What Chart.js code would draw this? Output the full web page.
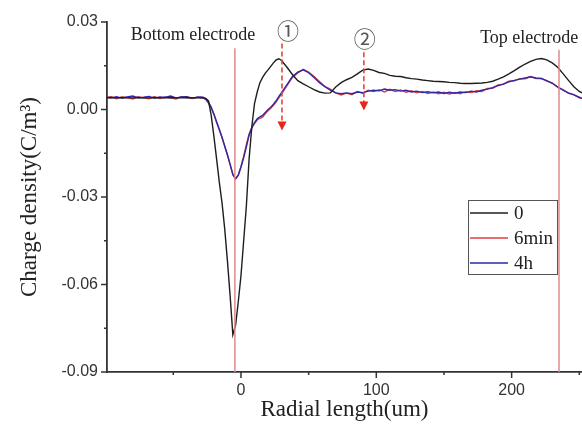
<!DOCTYPE html>
<html>
<head>
<meta charset="utf-8">
<script src="https://cdn.jsdelivr.net/npm/chart.js@4.4.0/dist/chart.umd.min.js"></script>
<style>
html,body{margin:0;padding:0;background:#fff;}
</style>
</head>
<body>
<canvas id="myLine" width="582" height="432"></canvas>
<script>
// radial position (um)
const radial = [-100,-96,-92,-88,-84,-80,-76,-72,-68,-64,-60,-56,-52,-48,-44,-40,-36,-32,
  -30,-28,-26,-24,-22,-20,-18,-16,-14,-12,-10,-8,-6,-4,-2,0,2,4,6,8,10,12,14,16,18,20,22,24,26,28,30,
  34,38,42,46,50,54,58,62,66,70,74,78,82,86,90,94,98,102,106,110,114,118,122,126,130,134,138,142,
  146,150,154,158,162,166,170,174,178,182,186,190,194,198,202,206,210,214,218,222,226,230,234,238,
  242,246,250,252];

// charge density, t = 0
const q0 = [0.0040,0.0041,0.0040,0.0041,0.0040,0.0040,0.0041,0.0040,0.0040,0.0041,0.0040,0.0040,0.0041,0.0040,0.0040,0.0041,0.0040,0.0040,
  0.0040,0.0040,0.0038,0.0030,-0.0020,-0.0092,-0.0170,-0.0250,-0.0320,-0.0410,-0.0520,-0.0640,-0.0772,-0.0740,-0.0660,-0.0570,-0.0450,-0.0330,-0.0170,-0.0060,0.0020,0.0060,0.0092,0.0110,0.0125,0.0136,0.0148,0.0160,0.0170,0.0174,0.0168,
  0.0145,0.0120,0.0099,0.0088,0.0078,0.0068,0.0060,0.0056,0.0057,0.0077,
  0.0092,0.0102,0.0110,0.0122,0.0135,0.0139,0.0134,0.0127,0.0124,0.0117,
  0.0114,0.0113,0.0109,0.0106,0.0104,0.0101,0.0099,0.0097,0.0096,0.0095,
  0.0093,0.0092,0.0090,0.0089,0.0089,0.0090,0.0091,0.0093,0.0097,0.0104,
  0.0112,0.0122,0.0133,0.0145,0.0156,0.0165,0.0172,0.0175,0.0170,0.0160,
  0.0145,0.0123,0.0100,0.0078,0.0062,0.0057];

// 6min
const q6min = [0.0040,0.0044,0.0037,0.0043,0.0041,0.0036,0.0044,0.0040,0.0037,0.0044,0.0038,0.0043,0.0040,0.0036,0.0044,0.0041,0.0038,0.0043,
  0.0040,0.0039,0.0034,0.0022,0.0005,-0.0018,-0.0045,-0.0070,-0.0097,-0.0127,
  -0.0157,-0.0190,-0.0224,-0.0237,-0.0224,-0.0195,-0.0160,-0.0120,-0.0084,-0.0063,
  -0.0048,-0.0036,-0.0030,-0.0026,-0.0014,-0.0004,0.0004,0.0014,0.0026,0.0040,0.0054,
  0.0082,0.0110,0.0125,0.0138,0.0128,0.0113,0.0096,0.0079,0.0070,0.0057,
  0.0050,0.0056,0.0051,0.0062,0.0055,0.0066,0.0062,0.0068,0.0060,0.0069,
  0.0062,0.0067,0.0059,0.0064,0.0057,0.0062,0.0055,0.0060,0.0054,0.0059,
  0.0053,0.0058,0.0054,0.0061,0.0058,0.0064,0.0062,0.0072,0.0073,0.0084,
  0.0086,0.0097,0.0098,0.0106,0.0105,0.0113,0.0106,0.0107,0.0097,0.0091,
  0.0076,0.0068,0.0055,0.0051,0.0040,0.0037];

// 4h
const q4h = [0.0043,0.0040,0.0044,0.0039,0.0043,0.0046,0.0040,0.0042,0.0045,0.0039,0.0043,0.0041,0.0046,0.0040,0.0043,0.0044,0.0039,0.0042,
  0.0043,0.0042,0.0036,0.0024,0.0008,-0.0015,-0.0042,-0.0068,-0.0095,-0.0125,
  -0.0155,-0.0188,-0.0222,-0.0238,-0.0226,-0.0198,-0.0165,-0.0128,-0.0088,-0.0062,
  -0.0045,-0.0032,-0.0025,-0.0020,-0.0010,0.0000,0.0008,0.0018,0.0030,0.0045,0.0058,
  0.0085,0.0113,0.0128,0.0136,0.0126,0.0110,0.0092,0.0078,0.0066,0.0057,
  0.0054,0.0057,0.0054,0.0060,0.0058,0.0063,0.0066,0.0064,0.0070,0.0066,
  0.0068,0.0063,0.0066,0.0060,0.0063,0.0058,0.0061,0.0057,0.0060,0.0055,
  0.0059,0.0056,0.0060,0.0058,0.0063,0.0060,0.0066,0.0070,0.0075,0.0082,
  0.0088,0.0095,0.0100,0.0104,0.0108,0.0112,0.0108,0.0106,0.0099,0.0090,
  0.0078,0.0066,0.0057,0.0050,0.0042,0.0039];

const seriesNames = ["0", "6min", "4h"];
const xTicks = [-50, 0, 50, 100, 150, 200, 250];
const xTickLabels = ["", "0", "", "100", "", "200", ""];
const yTicks = [-0.09, -0.075, -0.06, -0.045, -0.03, -0.015, 0, 0.015, 0.03];
const yTickLabels = ["-0.09", "", "-0.06", "", "-0.03", "", "0.00", "", "0.03"];

// electrode positions and annotations (data units)
const electrodes = [{x: -4.5, top: 0.021}, {x: 235, top: 0.0205}];
const arrows = [{x: 30.3, from: 0.0226, to: -0.0072}, {x: 90.8, from: 0.0196, to: -0.0003}];
const notes = [
  {text: "Bottom electrode", x: -35.4, y: 0.0254},
  {text: "Top electrode", x: 213, y: 0.0244}
];
const marks = [{text: "\u2460", x: 34.7, y: 0.0271}, {text: "\u2461", x: 91.5, y: 0.0244}];

const colors = ["#1e1e1e", "#e03c3c", "#2a2aa8"];

function pts(ys) {
  return radial.map((x, i) => ({x: x, y: ys[i]}));
}

const serif = '"Liberation Serif", "Times New Roman", serif';
const sans = '"Liberation Sans", Arial, sans-serif';

const decor = {
  id: "decor",
  afterDatasetsDraw(chart) {
    const ctx = chart.ctx;
    const xs = chart.scales.x, ys = chart.scales.y;
    const area = chart.chartArea;
    ctx.save();
    // electrode lines
    ctx.strokeStyle = "#e08a8a";
    ctx.lineWidth = 1.5;
    electrodes.forEach(e => {
      let x = xs.getPixelForValue(e.x);
      ctx.beginPath();
      ctx.moveTo(x, ys.getPixelForValue(e.top));
      ctx.lineTo(x, area.bottom);
      ctx.stroke();
    });
    // dashed arrows
    ctx.strokeStyle = "#e8463c";
    ctx.fillStyle = "#e8261c";
    ctx.lineWidth = 1.6;
    arrows.forEach(a => {
      let x = xs.getPixelForValue(a.x);
      let y0 = ys.getPixelForValue(a.from);
      let y1 = ys.getPixelForValue(a.to);
      ctx.setLineDash([5, 3]);
      ctx.beginPath();
      ctx.moveTo(x, y0);
      ctx.lineTo(x, y1 - 8);
      ctx.stroke();
      ctx.setLineDash([]);
      ctx.beginPath();
      ctx.moveTo(x - 4.5, y1 - 9);
      ctx.lineTo(x + 4.5, y1 - 9);
      ctx.lineTo(x, y1);
      ctx.closePath();
      ctx.fill();
    });
    // text notes
    ctx.fillStyle = "#222";
    ctx.font = "18px " + serif;
    ctx.textAlign = "center";
    ctx.textBaseline = "middle";
    notes.forEach(n => {
      ctx.fillText(n.text, xs.getPixelForValue(n.x), ys.getPixelForValue(n.y));
    });
    ctx.fillStyle = "#555";
    ctx.font = '22px "Noto Sans CJK SC", "DejaVu Sans"';
    marks.forEach(m => {
      ctx.fillText(m.text, xs.getPixelForValue(m.x), ys.getPixelForValue(m.y));
    });
    ctx.restore();
  },
  afterDraw(chart) {
    const ctx = chart.ctx;
    const xs = chart.scales.x, ys = chart.scales.y;
    const area = chart.chartArea;
    ctx.save();
    ctx.strokeStyle = "#333";
    ctx.lineWidth = 1.5;
    // tick marks, long for labelled ones
    xTicks.forEach((v, i) => {
      let x = xs.getPixelForValue(v);
      let len = xTickLabels[i] ? 6 : 3;
      ctx.beginPath();
      ctx.moveTo(x, area.bottom);
      ctx.lineTo(x, area.bottom + len);
      ctx.stroke();
    });
    yTicks.forEach((v, i) => {
      let y = ys.getPixelForValue(v);
      let len = yTickLabels[i] ? 6 : 3;
      ctx.beginPath();
      ctx.moveTo(area.left, y);
      ctx.lineTo(area.left - len, y);
      ctx.stroke();
    });
    // legend box
    let bx = 468, by = 200, bw = 89, bh = 74;
    ctx.fillStyle = "#fff";
    ctx.fillRect(bx, by, bw, bh);
    ctx.strokeStyle = "#555";
    ctx.lineWidth = 1;
    ctx.strokeRect(bx + 0.5, by + 0.5, bw, bh);
    ctx.font = "19px " + serif;
    ctx.textAlign = "left";
    ctx.textBaseline = "middle";
    seriesNames.forEach((name, i) => {
      let y = by + 13 + i * 25;
      ctx.strokeStyle = colors[i];
      ctx.lineWidth = 1.3;
      ctx.beginPath();
      ctx.moveTo(bx + 2, y);
      ctx.lineTo(bx + 40, y);
      ctx.stroke();
      ctx.fillStyle = "#222";
      ctx.fillText(name, bx + 46, y + 1);
    });
    ctx.restore();
  }
};

let crt = document.getElementById("myLine");
let lineChart = new Chart(crt, {
  type: "line",
  data: {
    datasets: [
      {label: seriesNames[0], data: pts(q0), borderColor: colors[0], borderWidth: 1.4, order: 0},
      {label: seriesNames[1], data: pts(q6min), borderColor: colors[1], borderWidth: 1.4, order: 2},
      {label: seriesNames[2], data: pts(q4h), borderColor: colors[2], borderWidth: 1.4, order: 1}
    ]
  },
  options: {
    responsive: false,
    animation: false,
    elements: {point: {radius: 0}, line: {tension: 0}},
    layout: {padding: {top: 22, right: 0, left: 0, bottom: 0}},
    plugins: {legend: {display: false}, tooltip: {enabled: false}},
    scales: {
      x: {
        type: "linear",
        min: -99,
        max: 252,
        afterBuildTicks: s => { s.ticks = xTicks.map(v => ({value: v})); },
        afterFit: s => { s.height = 60; s.paddingRight = 0; s.paddingLeft = 0; },
        grid: {drawOnChartArea: false, drawTicks: false},
        border: {display: true, color: "#333", width: 1.8},
        ticks: {
          padding: 9,
          maxRotation: 0,
          autoSkip: false,
          color: "#333",
          font: {family: sans, size: 16},
          callback: (v, i) => xTickLabels[i]
        },
        title: {
          display: true,
          text: "Radial length(um)",
          color: "#222",
          font: {family: serif, size: 23},
          padding: {top: 0, bottom: 8}
        }
      },
      y: {
        min: -0.09,
        max: 0.03,
        afterBuildTicks: s => { s.ticks = yTicks.map(v => ({value: v})); },
        afterFit: s => { s.width = 107; s.paddingTop = 0; s.paddingBottom = 0; },
        grid: {drawOnChartArea: false, drawTicks: false},
        border: {display: true, color: "#333", width: 1.8},
        ticks: {
          padding: 9,
          autoSkip: false,
          color: "#333",
          font: {family: sans, size: 16},
          callback: (v, i) => yTickLabels[i]
        },
        title: {
          display: true,
          text: "Charge density(C/m\u00b3)",
          color: "#222",
          font: {family: serif, size: 23},
          padding: {top: 16, bottom: 0}
        }
      }
    }
  },
  plugins: [decor]
});
</script>
</body>
</html>
